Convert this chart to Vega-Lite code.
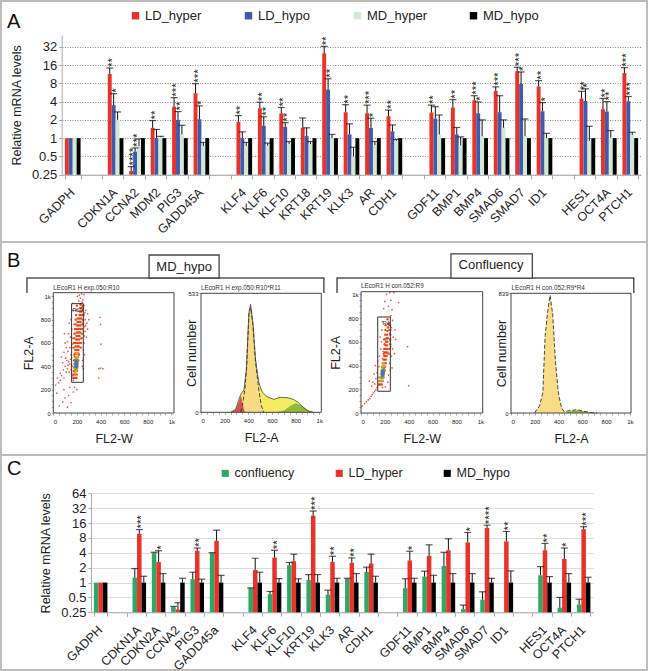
{"$schema":"https://vega.github.io/schema/vega-lite/v6.json","padding":0,"spacing":0,"bounds":"flush","background":"white",
"resolve":{"scale":{"color":"independent","xOffset":"independent","size":"independent"},"legend":{"color":"independent","size":"independent"}},
"config":{"font":"Liberation Sans","view":{"stroke":"#bdbdbd","strokeWidth":2},"axis":{"labelFont":"Liberation Sans","titleFont":"Liberation Sans","titleFontWeight":"normal","labelColor":"#222","titleColor":"#222"},"legend":{"labelFont":"Liberation Sans"},"title":{"font":"Liberation Sans"}},
"datasets":{
"A":[
{"g":"GADPH","s":"LD_hyper","v":1,"hi":1},{"g":"GADPH","s":"LD_hypo","v":1,"hi":1},{"g":"GADPH","s":"MD_hyper","v":1,"hi":1},{"g":"GADPH","s":"MD_hypo","v":1,"hi":1},
{"g":"CDKN1A","s":"LD_hyper","v":11.4,"hi":14.3,"sig":"**"},{"g":"CDKN1A","s":"LD_hypo","v":3.5,"hi":5.4,"sig":"*"},{"g":"CDKN1A","s":"MD_hyper","v":2,"hi":2.7},{"g":"CDKN1A","s":"MD_hypo","v":1,"hi":1},
{"g":"CCNA2","s":"LD_hyper","v":0.287,"hi":0.34,"sig":"****"},{"g":"CCNA2","s":"LD_hypo","v":0.6,"hi":0.69,"sig":"***"},{"g":"CCNA2","s":"MD_hyper","v":0.74,"hi":0.97},{"g":"CCNA2","s":"MD_hypo","v":1,"hi":1},
{"g":"MDM2","s":"LD_hyper","v":1.48,"hi":1.95,"sig":"**"},{"g":"MDM2","s":"LD_hypo","v":1,"hi":1.39},{"g":"MDM2","s":"MD_hyper","v":1.04,"hi":1.07},{"g":"MDM2","s":"MD_hypo","v":1,"hi":1},
{"g":"PIG3","s":"LD_hyper","v":3.3,"hi":4.65,"sig":"***"},{"g":"PIG3","s":"LD_hypo","v":2,"hi":2.74,"sig":"**"},{"g":"PIG3","s":"MD_hyper","v":1.15,"hi":1.63},{"g":"PIG3","s":"MD_hypo","v":1,"hi":1},
{"g":"GADD45A","s":"LD_hyper","v":5.5,"hi":7.9,"sig":"***"},{"g":"GADD45A","s":"LD_hypo","v":2.05,"hi":3.4,"sig":"*"},{"g":"GADD45A","s":"MD_hyper","v":0.74,"hi":0.85},{"g":"GADD45A","s":"MD_hypo","v":1,"hi":1},
{"g":"KLF4","s":"LD_hyper","v":1.85,"hi":2.35,"sig":"**"},{"g":"KLF4","s":"LD_hypo","v":1,"hi":1.27},{"g":"KLF4","s":"MD_hyper","v":0.74,"hi":0.85},{"g":"KLF4","s":"MD_hypo","v":1,"hi":1},
{"g":"KLF6","s":"LD_hyper","v":3.1,"hi":3.9,"sig":"**"},{"g":"KLF6","s":"LD_hypo","v":1.6,"hi":2.25,"sig":"**"},{"g":"KLF6","s":"MD_hyper","v":0.75,"hi":0.83},{"g":"KLF6","s":"MD_hypo","v":1,"hi":1},
{"g":"KLF10","s":"LD_hyper","v":2.57,"hi":3.2,"sig":"**"},{"g":"KLF10","s":"LD_hypo","v":1.53,"hi":1.8,"sig":"**"},{"g":"KLF10","s":"MD_hyper","v":0.8,"hi":0.88},{"g":"KLF10","s":"MD_hypo","v":1,"hi":1},
{"g":"KRT18","s":"LD_hyper","v":1.48,"hi":2.15},{"g":"KRT18","s":"LD_hypo","v":1.08,"hi":1.48},{"g":"KRT18","s":"MD_hyper","v":0.8,"hi":0.88},{"g":"KRT18","s":"MD_hypo","v":1,"hi":1},
{"g":"KRT19","s":"LD_hyper","v":25,"hi":32.5,"sig":"**"},{"g":"KRT19","s":"LD_hypo","v":6.3,"hi":9.5,"sig":"**"},{"g":"KRT19","s":"MD_hyper","v":1,"hi":1.15},{"g":"KRT19","s":"MD_hypo","v":1,"hi":1},
{"g":"KLK3","s":"LD_hyper","v":2.67,"hi":3.56,"sig":"**"},{"g":"KLK3","s":"LD_hypo","v":1.15,"hi":1.72},{"g":"KLK3","s":"MD_hyper","v":0.5,"hi":0.71},{"g":"KLK3","s":"MD_hypo","v":1,"hi":1},
{"g":"AR","s":"LD_hyper","v":2.57,"hi":3.5,"sig":"***"},{"g":"AR","s":"LD_hypo","v":1.47,"hi":2.13,"sig":"*"},{"g":"AR","s":"MD_hyper","v":0.77,"hi":0.88},{"g":"AR","s":"MD_hypo","v":1,"hi":1},
{"g":"CDH1","s":"LD_hyper","v":2.3,"hi":2.9,"sig":"**"},{"g":"CDH1","s":"LD_hypo","v":1.29,"hi":1.65},{"g":"CDH1","s":"MD_hyper","v":0.9,"hi":0.95},{"g":"CDH1","s":"MD_hypo","v":1,"hi":1},
{"g":"GDF11","s":"LD_hyper","v":2.64,"hi":3.5,"sig":"**"},{"g":"GDF11","s":"LD_hypo","v":2.1,"hi":3.3},{"g":"GDF11","s":"MD_hyper","v":1.15,"hi":2.4},{"g":"GDF11","s":"MD_hypo","v":1,"hi":1},
{"g":"BMP1","s":"LD_hyper","v":3.2,"hi":4.3,"sig":"**"},{"g":"BMP1","s":"LD_hypo","v":1.15,"hi":1.5},{"g":"BMP1","s":"MD_hyper","v":0.76,"hi":1.05},{"g":"BMP1","s":"MD_hypo","v":1,"hi":1},
{"g":"BMP4","s":"LD_hyper","v":4.2,"hi":5,"sig":"***"},{"g":"BMP4","s":"LD_hypo","v":2.57,"hi":3.95,"sig":"*"},{"g":"BMP4","s":"MD_hyper","v":1.08,"hi":2},{"g":"BMP4","s":"MD_hypo","v":1,"hi":1},
{"g":"SMAD6","s":"LD_hyper","v":6,"hi":7,"sig":"***"},{"g":"SMAD6","s":"LD_hypo","v":2.67,"hi":5},{"g":"SMAD6","s":"MD_hyper","v":1.48,"hi":2},{"g":"SMAD6","s":"MD_hypo","v":1,"hi":1},
{"g":"SMAD7","s":"LD_hyper","v":12.7,"hi":14.7,"sig":"***"},{"g":"SMAD7","s":"LD_hypo","v":7.8,"hi":12.3,"sig":"*"},{"g":"SMAD7","s":"MD_hyper","v":1.08,"hi":2.07},{"g":"SMAD7","s":"MD_hypo","v":1,"hi":1},
{"g":"ID1","s":"LD_hyper","v":7.1,"hi":8.85,"sig":"**"},{"g":"ID1","s":"LD_hypo","v":2.77,"hi":3.85,"sig":"*"},{"g":"ID1","s":"MD_hyper","v":1,"hi":1.2},{"g":"ID1","s":"MD_hypo","v":1,"hi":1},
{"g":"HES1","s":"LD_hyper","v":4.5,"hi":5.9,"sig":"**"},{"g":"HES1","s":"LD_hypo","v":4.1,"hi":6.5,"sig":"*"},{"g":"HES1","s":"MD_hyper","v":0.9,"hi":1.57},{"g":"HES1","s":"MD_hypo","v":1,"hi":1},
{"g":"OCT4A","s":"LD_hyper","v":3,"hi":4.5,"sig":"**"},{"g":"OCT4A","s":"LD_hypo","v":2.74,"hi":4,"sig":"**"},{"g":"OCT4A","s":"MD_hyper","v":1.02,"hi":1.33},{"g":"OCT4A","s":"MD_hypo","v":1,"hi":1},
{"g":"PTCH1","s":"LD_hyper","v":11.8,"hi":14.5,"sig":"***"},{"g":"PTCH1","s":"LD_hypo","v":4.05,"hi":4.85,"sig":"***"},{"g":"PTCH1","s":"MD_hyper","v":1.13,"hi":1.25},{"g":"PTCH1","s":"MD_hypo","v":1,"hi":1}
],
"C":[
{"g":"GADPH","s":"confluency","v":1,"hi":1},{"g":"GADPH","s":"LD_hyper","v":1,"hi":1},{"g":"GADPH","s":"MD_hypo","v":1,"hi":1},
{"g":"CDKN1A","s":"confluency","v":1.26,"hi":1.92},{"g":"CDKN1A","s":"LD_hyper","v":9.7,"hi":11.8,"sig":"***"},{"g":"CDKN1A","s":"MD_hypo","v":1,"hi":1.34},
{"g":"CDKN2A","s":"confluency","v":4,"hi":4.1},{"g":"CDKN2A","s":"LD_hyper","v":2.6,"hi":4.4,"sig":"*"},{"g":"CDKN2A","s":"MD_hypo","v":1,"hi":1.52},
{"g":"CCNA2","s":"confluency","v":0.32,"hi":0.33},{"g":"CCNA2","s":"LD_hyper","v":0.285,"hi":0.39},{"g":"CCNA2","s":"MD_hypo","v":1,"hi":1.22},
{"g":"PIG3","s":"confluency","v":1.17,"hi":1.62},{"g":"PIG3","s":"LD_hyper","v":4.4,"hi":5,"sig":"**"},{"g":"PIG3","s":"MD_hypo","v":1,"hi":1.17},
{"g":"GADD45a","s":"confluency","v":4,"hi":4.02},{"g":"GADD45a","s":"LD_hyper","v":7,"hi":11.5},{"g":"GADD45a","s":"MD_hypo","v":1,"hi":1.4},
{"g":"KLF4","s":"confluency","v":0.77,"hi":0.78},{"g":"KLF4","s":"LD_hyper","v":1.8,"hi":3.1},{"g":"KLF4","s":"MD_hypo","v":1,"hi":1.62},
{"g":"KLF6","s":"confluency","v":0.58,"hi":0.66},{"g":"KLF6","s":"LD_hyper","v":3.2,"hi":4.5,"sig":"**"},{"g":"KLF6","s":"MD_hypo","v":1,"hi":1.2},
{"g":"KLF10","s":"confluency","v":2.25,"hi":2.55},{"g":"KLF10","s":"LD_hyper","v":2.7,"hi":3.75},{"g":"KLF10","s":"MD_hypo","v":1,"hi":1.19},
{"g":"KRT19","s":"confluency","v":1.13,"hi":1.45},{"g":"KRT19","s":"LD_hyper","v":22.7,"hi":28,"sig":"***"},{"g":"KRT19","s":"MD_hypo","v":1,"hi":1.45},
{"g":"KLK3","s":"confluency","v":0.57,"hi":0.7},{"g":"KLK3","s":"LD_hyper","v":2.6,"hi":3.4,"sig":"**"},{"g":"KLK3","s":"MD_hypo","v":1,"hi":1.22},
{"g":"AR","s":"confluency","v":1.19,"hi":1.22},{"g":"AR","s":"LD_hyper","v":2.5,"hi":3.15,"sig":"**"},{"g":"AR","s":"MD_hypo","v":1,"hi":1.52},
{"g":"CDH1","s":"confluency","v":1.64,"hi":2.05},{"g":"CDH1","s":"LD_hyper","v":2.43,"hi":3.75},{"g":"CDH1","s":"MD_hypo","v":1,"hi":1.34},
{"g":"GDF11","s":"confluency","v":0.77,"hi":1.19},{"g":"GDF11","s":"LD_hyper","v":2.8,"hi":4.3,"sig":"*"},{"g":"GDF11","s":"MD_hypo","v":1,"hi":1.22},
{"g":"BMP1","s":"confluency","v":1.32,"hi":1.7},{"g":"BMP1","s":"LD_hyper","v":3.47,"hi":5.8},{"g":"BMP1","s":"MD_hypo","v":1,"hi":1.4},
{"g":"BMP4","s":"confluency","v":2.17,"hi":4.1},{"g":"BMP4","s":"LD_hyper","v":4.5,"hi":7.7},{"g":"BMP4","s":"MD_hypo","v":1,"hi":1.52},
{"g":"SMAD6","s":"confluency","v":0.29,"hi":0.35},{"g":"SMAD6","s":"LD_hyper","v":6.5,"hi":10.3,"sig":"*"},{"g":"SMAD6","s":"MD_hypo","v":1,"hi":1.52},
{"g":"SMAD7","s":"confluency","v":0.45,"hi":0.65},{"g":"SMAD7","s":"LD_hyper","v":12.8,"hi":14.5,"sig":"****"},{"g":"SMAD7","s":"MD_hypo","v":1,"hi":1.22},
{"g":"ID1","s":"LD_hyper","v":6.8,"hi":10.8,"sig":"**"},{"g":"ID1","s":"MD_hypo","v":1,"hi":1.72},
{"g":"HES1","s":"confluency","v":1.4,"hi":2.1},{"g":"HES1","s":"LD_hyper","v":4.5,"hi":6.2,"sig":"**"},{"g":"HES1","s":"MD_hypo","v":1,"hi":1.32},
{"g":"OCT4A","s":"confluency","v":0.31,"hi":0.5},{"g":"OCT4A","s":"LD_hyper","v":3,"hi":5,"sig":"*"},{"g":"OCT4A","s":"MD_hypo","v":1,"hi":1.52},
{"g":"PTCH1","s":"confluency","v":0.36,"hi":0.46},{"g":"PTCH1","s":"LD_hyper","v":12,"hi":13.5,"sig":"***"},{"g":"PTCH1","s":"MD_hypo","v":1,"hi":1.28}
],
"s1":[
{"x":30,"y":170,"d":"l"},{"x":20,"y":240,"d":"l"},{"x":45,"y":260,"d":"l"},{"x":60,"y":280,"d":"l"},{"x":35,"y":300,"d":"l"},{"x":70,"y":320,"d":"l"},{"x":90,"y":300,"d":"l"},{"x":60,"y":340,"d":"l"},{"x":85,"y":370,"d":"l"},{"x":110,"y":350,"d":"l"},{"x":100,"y":400,"d":"l"},{"x":120,"y":380,"d":"l"},{"x":135,"y":350,"d":"l"},{"x":80,"y":430,"d":"l"},{"x":105,"y":470,"d":"l"},{"x":130,"y":440,"d":"l"},{"x":90,"y":520,"d":"l"},{"x":70,"y":480,"d":"l"},{"x":125,"y":530,"d":"l"},{"x":150,"y":500,"d":"l"},{"x":140,"y":420,"d":"l"},{"x":150,"y":370,"d":"l"},{"x":165,"y":320,"d":"l"},{"x":170,"y":280,"d":"l"},{"x":120,"y":610,"d":"l"},{"x":100,"y":600,"d":"l"},{"x":95,"y":680,"d":"l"},{"x":130,"y":680,"d":"l"},{"x":145,"y":650,"d":"l"},{"x":140,"y":560,"d":"l"},{"x":155,"y":720,"d":"l"},{"x":135,"y":770,"d":"l"},{"x":150,"y":800,"d":"l"},{"x":165,"y":880,"d":"l"},{"x":165,"y":940,"d":"l"},{"x":175,"y":760,"d":"l"},{"x":180,"y":680,"d":"l"},{"x":115,"y":450,"d":"l"},{"x":125,"y":410,"d":"l"},{"x":145,"y":460,"d":"l"},{"x":160,"y":400,"d":"l"},{"x":155,"y":340,"d":"l"},{"x":110,"y":560,"d":"l"},{"x":160,"y":590,"d":"l"},{"x":165,"y":640,"d":"l"},
{"x":260,"y":920,"d":"l"},{"x":275,"y":880,"d":"l"},{"x":250,"y":970,"d":"l"},{"x":220,"y":1010,"d":"l"},{"x":240,"y":1020,"d":"l"},{"x":260,"y":1015,"d":"l"},{"x":270,"y":800,"d":"l"},{"x":285,"y":770,"d":"l"},{"x":290,"y":720,"d":"l"},{"x":280,"y":650,"d":"l"},{"x":270,"y":700,"d":"l"},{"x":260,"y":600,"d":"l"},{"x":255,"y":540,"d":"l"},{"x":260,"y":840,"d":"l"},{"x":275,"y":750,"d":"l"},{"x":290,"y":850,"d":"l"},{"x":300,"y":800,"d":"l"},{"x":265,"y":500,"d":"l"},{"x":250,"y":450,"d":"l"},{"x":245,"y":400,"d":"l"},{"x":255,"y":380,"d":"l"},{"x":405,"y":590,"d":"l"},{"x":385,"y":300,"d":"l"},{"x":400,"y":385,"d":"l"},{"x":385,"y":380,"d":"l"},{"x":420,"y":380,"d":"l"},{"x":395,"y":820,"d":"l"},{"x":400,"y":760,"d":"l"},{"x":255,"y":780,"d":"l"},{"x":265,"y":740,"d":"l"},{"x":262,"y":660,"d":"l"},{"x":258,"y":700,"d":"l"},{"x":268,"y":860,"d":"l"},{"x":255,"y":900,"d":"l"},{"x":245,"y":950,"d":"l"},{"x":230,"y":985,"d":"l"},{"x":215,"y":960,"d":"l"},{"x":205,"y":1000,"d":"l"},
{"x":50,"y":60,"d":"l"},{"x":100,"y":130,"d":"l"},{"x":130,"y":150,"d":"l"},{"x":150,"y":90,"d":"l"},{"x":120,"y":50,"d":"l"},{"x":80,"y":95,"d":"l"},{"x":180,"y":220,"d":"l"},{"x":200,"y":200,"d":"l"},{"x":140,"y":220,"d":"l"},{"x":170,"y":180,"d":"l"},{"x":90,"y":200,"d":"l"},
{"x":176,"y":450,"d":"m"},{"x":212,"y":450,"d":"m"},{"x":178,"y":500,"d":"m"},{"x":218,"y":500,"d":"m"},{"x":172,"y":560,"d":"m"},{"x":232,"y":560,"d":"m"},{"x":175,"y":600,"d":"m"},{"x":235,"y":600,"d":"m"},{"x":178,"y":640,"d":"m"},{"x":238,"y":640,"d":"m"},{"x":181,"y":680,"d":"m"},{"x":241,"y":680,"d":"m"},{"x":184,"y":720,"d":"m"},{"x":244,"y":720,"d":"m"},{"x":187,"y":760,"d":"m"},{"x":247,"y":760,"d":"m"},{"x":190,"y":800,"d":"m"},{"x":250,"y":800,"d":"m"},{"x":193,"y":840,"d":"m"},{"x":253,"y":840,"d":"m"},{"x":196,"y":880,"d":"m"},{"x":250,"y":880,"d":"m"},{"x":200,"y":920,"d":"m"},{"x":248,"y":920,"d":"m"},
{"x":170,"y":300,"d":"m"},{"x":183,"y":300,"d":"m"},{"x":196,"y":300,"d":"m"},{"x":172,"y":330,"d":"m"},{"x":185,"y":330,"d":"m"},{"x":198,"y":330,"d":"m"},{"x":174,"y":360,"d":"m"},{"x":187,"y":360,"d":"m"},{"x":200,"y":360,"d":"m"},{"x":177,"y":390,"d":"m"},{"x":190,"y":390,"d":"m"},{"x":203,"y":390,"d":"m"},{"x":179,"y":420,"d":"m"},{"x":192,"y":420,"d":"m"},{"x":205,"y":420,"d":"m"},{"x":181,"y":450,"d":"m"},{"x":194,"y":450,"d":"m"},{"x":207,"y":450,"d":"m"},{"x":183,"y":480,"d":"m"},{"x":196,"y":480,"d":"m"},{"x":209,"y":480,"d":"m"},{"x":185,"y":510,"d":"m"},{"x":198,"y":510,"d":"m"},{"x":211,"y":510,"d":"m"},{"x":187,"y":540,"d":"m"},{"x":200,"y":540,"d":"m"},{"x":213,"y":540,"d":"m"},{"x":190,"y":570,"d":"m"},{"x":203,"y":570,"d":"m"},{"x":216,"y":570,"d":"m"},{"x":192,"y":600,"d":"m"},{"x":205,"y":600,"d":"m"},{"x":218,"y":600,"d":"m"},{"x":194,"y":630,"d":"m"},{"x":207,"y":630,"d":"m"},{"x":220,"y":630,"d":"m"},{"x":196,"y":660,"d":"m"},{"x":209,"y":660,"d":"m"},{"x":222,"y":660,"d":"m"},{"x":199,"y":690,"d":"m"},{"x":212,"y":690,"d":"m"},{"x":225,"y":690,"d":"m"},{"x":201,"y":720,"d":"m"},{"x":214,"y":720,"d":"m"},{"x":227,"y":720,"d":"m"},{"x":203,"y":750,"d":"m"},{"x":216,"y":750,"d":"m"},{"x":229,"y":750,"d":"m"},{"x":205,"y":780,"d":"m"},{"x":218,"y":780,"d":"m"},{"x":231,"y":780,"d":"m"},{"x":208,"y":810,"d":"m"},{"x":221,"y":810,"d":"m"},{"x":234,"y":810,"d":"m"},{"x":223,"y":840,"d":"m"},{"x":236,"y":840,"d":"m"},{"x":225,"y":870,"d":"m"},{"x":238,"y":870,"d":"m"},{"x":228,"y":900,"d":"m"},{"x":240,"y":900,"d":"m"},{"x":230,"y":930,"d":"m"},
{"x":185,"y":340,"d":"h"},{"x":192,"y":360,"d":"h"},{"x":182,"y":380,"d":"h"},{"x":200,"y":385,"d":"h"},{"x":185,"y":410,"d":"h"},{"x":203,"y":415,"d":"h"},{"x":188,"y":440,"d":"h"},{"x":205,"y":445,"d":"h"},{"x":192,"y":475,"d":"h"},{"x":205,"y":480,"d":"h"},{"x":200,"y":510,"d":"h"},{"x":188,"y":400,"d":"c"},{"x":200,"y":400,"d":"c"},{"x":192,"y":430,"d":"c"},{"x":201,"y":435,"d":"c"},{"x":198,"y":460,"d":"c"},{"x":195,"y":380,"d":"c"},{"x":195,"y":415,"d":"b"},{"x":196,"y":440,"d":"b"},{"x":194,"y":400,"d":"b"}
],
"s2":[
{"x":10,"y":60,"d":"l"},{"x":30,"y":80,"d":"l"},{"x":45,"y":95,"d":"l"},{"x":60,"y":110,"d":"l"},{"x":75,"y":120,"d":"l"},{"x":85,"y":140,"d":"l"},{"x":95,"y":155,"d":"l"},{"x":105,"y":170,"d":"l"},{"x":115,"y":185,"d":"l"},{"x":125,"y":195,"d":"l"},{"x":135,"y":215,"d":"l"},{"x":90,"y":225,"d":"l"},{"x":70,"y":270,"d":"l"},{"x":100,"y":260,"d":"l"},{"x":115,"y":245,"d":"l"},{"x":125,"y":290,"d":"l"},{"x":110,"y":330,"d":"l"},{"x":135,"y":340,"d":"l"},{"x":145,"y":300,"d":"l"},{"x":120,"y":400,"d":"l"},{"x":140,"y":440,"d":"l"},{"x":150,"y":390,"d":"l"},{"x":155,"y":480,"d":"l"},{"x":165,"y":540,"d":"l"},{"x":170,"y":600,"d":"l"},{"x":160,"y":640,"d":"l"},{"x":175,"y":700,"d":"l"},{"x":180,"y":770,"d":"l"},{"x":190,"y":880,"d":"l"},{"x":200,"y":940,"d":"l"},{"x":215,"y":1000,"d":"l"},{"x":240,"y":1015,"d":"l"},{"x":275,"y":1015,"d":"l"},{"x":250,"y":950,"d":"l"},{"x":230,"y":900,"d":"l"},{"x":260,"y":870,"d":"l"},{"x":250,"y":820,"d":"l"},{"x":265,"y":780,"d":"l"},{"x":285,"y":700,"d":"l"},{"x":270,"y":640,"d":"l"},{"x":255,"y":720,"d":"l"},{"x":290,"y":620,"d":"l"},{"x":250,"y":560,"d":"l"},{"x":265,"y":540,"d":"l"},{"x":255,"y":480,"d":"l"},{"x":280,"y":500,"d":"l"},{"x":240,"y":420,"d":"l"},{"x":245,"y":360,"d":"l"},{"x":260,"y":380,"d":"l"},{"x":230,"y":320,"d":"l"},{"x":225,"y":260,"d":"l"},{"x":390,"y":560,"d":"l"},{"x":400,"y":230,"d":"l"},{"x":315,"y":930,"d":"l"},{"x":205,"y":220,"d":"l"},{"x":180,"y":215,"d":"l"},{"x":240,"y":670,"d":"l"},{"x":190,"y":620,"d":"l"},{"x":185,"y":520,"d":"l"},{"x":180,"y":460,"d":"l"},{"x":245,"y":610,"d":"l"},{"x":240,"y":760,"d":"l"},{"x":235,"y":700,"d":"l"},
{"x":190,"y":500,"d":"m"},{"x":232,"y":500,"d":"m"},{"x":195,"y":540,"d":"m"},{"x":240,"y":540,"d":"m"},{"x":198,"y":580,"d":"m"},{"x":245,"y":580,"d":"m"},{"x":200,"y":620,"d":"m"},{"x":245,"y":620,"d":"m"},{"x":203,"y":660,"d":"m"},{"x":246,"y":660,"d":"m"},{"x":205,"y":700,"d":"m"},{"x":246,"y":700,"d":"m"},{"x":207,"y":740,"d":"m"},{"x":240,"y":740,"d":"m"},
{"x":150,"y":240,"d":"m"},{"x":162,"y":240,"d":"m"},{"x":174,"y":240,"d":"m"},{"x":155,"y":270,"d":"m"},{"x":168,"y":270,"d":"m"},{"x":181,"y":270,"d":"m"},{"x":162,"y":300,"d":"m"},{"x":175,"y":300,"d":"m"},{"x":188,"y":300,"d":"m"},{"x":167,"y":330,"d":"m"},{"x":180,"y":330,"d":"m"},{"x":193,"y":330,"d":"m"},{"x":173,"y":360,"d":"m"},{"x":186,"y":360,"d":"m"},{"x":199,"y":360,"d":"m"},{"x":177,"y":390,"d":"m"},{"x":190,"y":390,"d":"m"},{"x":203,"y":390,"d":"m"},{"x":183,"y":420,"d":"m"},{"x":195,"y":420,"d":"m"},{"x":207,"y":420,"d":"m"},{"x":190,"y":450,"d":"m"},{"x":200,"y":450,"d":"m"},{"x":210,"y":450,"d":"m"},{"x":195,"y":480,"d":"m"},{"x":205,"y":480,"d":"m"},{"x":215,"y":480,"d":"m"},{"x":200,"y":510,"d":"m"},{"x":210,"y":510,"d":"m"},{"x":220,"y":510,"d":"m"},{"x":205,"y":540,"d":"m"},{"x":215,"y":540,"d":"m"},{"x":222,"y":540,"d":"m"},{"x":208,"y":570,"d":"m"},{"x":218,"y":570,"d":"m"},{"x":210,"y":600,"d":"m"},{"x":222,"y":600,"d":"m"},{"x":215,"y":630,"d":"m"},{"x":225,"y":630,"d":"m"},{"x":218,"y":660,"d":"m"},{"x":222,"y":690,"d":"m"},{"x":226,"y":720,"d":"m"},{"x":228,"y":750,"d":"m"},{"x":222,"y":790,"d":"m"},
{"x":165,"y":270,"d":"h"},{"x":175,"y":275,"d":"h"},{"x":168,"y":300,"d":"h"},{"x":185,"y":305,"d":"h"},{"x":170,"y":330,"d":"h"},{"x":190,"y":335,"d":"h"},{"x":176,"y":360,"d":"h"},{"x":193,"y":365,"d":"h"},{"x":182,"y":390,"d":"h"},{"x":195,"y":395,"d":"h"},{"x":188,"y":415,"d":"h"},{"x":176,"y":300,"d":"c"},{"x":176,"y":325,"d":"c"},{"x":185,"y":330,"d":"c"},{"x":182,"y":355,"d":"c"},{"x":188,"y":375,"d":"c"},{"x":180,"y":345,"d":"b"},{"x":182,"y":320,"d":"b"},{"x":185,"y":350,"d":"b"}
],
"h1":[
{"x":251,"n":0,"p":"env"},{"x":293,"n":13,"p":"env"},{"x":335,"n":80,"p":"env"},{"x":363,"n":100,"p":"env"},{"x":383,"n":193,"p":"env"},{"x":405,"n":446,"p":"env"},{"x":419,"n":484,"p":"env"},{"x":439,"n":402,"p":"env"},{"x":461,"n":237,"p":"env"},{"x":489,"n":133,"p":"env"},{"x":517,"n":91,"p":"env"},{"x":559,"n":70,"p":"env"},{"x":615,"n":58,"p":"env"},{"x":670,"n":67,"p":"env"},{"x":726,"n":66,"p":"env"},{"x":782,"n":58,"p":"env"},{"x":824,"n":43,"p":"env"},{"x":866,"n":21,"p":"env"},{"x":908,"n":6,"p":"env"},{"x":950,"n":0,"p":"env"},
{"x":335,"n":0,"p":"G1"},{"x":350,"n":30,"p":"G1"},{"x":370,"n":100,"p":"G1"},{"x":385,"n":190,"p":"G1"},{"x":405,"n":440,"p":"G1"},{"x":419,"n":470,"p":"G1"},{"x":439,"n":390,"p":"G1"},{"x":461,"n":225,"p":"G1"},{"x":489,"n":100,"p":"G1"},{"x":510,"n":30,"p":"G1"},{"x":530,"n":0,"p":"G1"},
{"x":251,"n":0,"p":"sub"},{"x":293,"n":12,"p":"sub"},{"x":320,"n":45,"p":"sub"},{"x":338,"n":78,"p":"sub"},{"x":350,"n":40,"p":"sub"},{"x":370,"n":0,"p":"sub"},
{"x":640,"n":0,"p":"G2"},{"x":700,"n":8,"p":"G2"},{"x":760,"n":30,"p":"G2"},{"x":800,"n":40,"p":"G2"},{"x":850,"n":32,"p":"G2"},{"x":900,"n":10,"p":"G2"},{"x":950,"n":0,"p":"G2"}
],
"h2":[
{"x":199,"n":2,"p":"env"},{"x":240,"n":49,"p":"env"},{"x":268,"n":143,"p":"env"},{"x":287,"n":540,"p":"env"},{"x":309,"n":715,"p":"env"},{"x":329,"n":825,"p":"env"},{"x":351,"n":692,"p":"env"},{"x":373,"n":376,"p":"env"},{"x":398,"n":143,"p":"env"},{"x":425,"n":37,"p":"env"},{"x":448,"n":9,"p":"env"},{"x":489,"n":16,"p":"env"},{"x":558,"n":23,"p":"env"},{"x":613,"n":12,"p":"env"},{"x":682,"n":2,"p":"env"},{"x":724,"n":0,"p":"env"},
{"x":460,"n":0,"p":"G2"},{"x":500,"n":12,"p":"G2"},{"x":560,"n":20,"p":"G2"},{"x":600,"n":14,"p":"G2"},{"x":680,"n":2,"p":"G2"},{"x":720,"n":0,"p":"G2"}
]
},
"vconcat":[
{"width":646,"height":241,"data":{"name":"A"},
"title":{"text":"A","anchor":"start","frame":"group","offset":-31,"dx":6,"fontSize":20,"fontWeight":"normal","color":"#111"},
"encoding":{
"x":{"field":"g","type":"nominal","title":null,"sort":null,"scale":{"domain":["GADPH","_1","CDKN1A","CCNA2","MDM2","PIG3","GADD45A","_2","KLF4","KLF6","KLF10","KRT18","KRT19","KLK3","AR","CDH1","_3","GDF11","BMP1","BMP4","SMAD6","SMAD7","ID1","_4","HES1","OCT4A","PTCH1"],"range":[61,640],"paddingInner":0.27,"paddingOuter":0.135},
"axis":{"orient":"bottom","offset":-67.3,"labelAngle":-45,"labelOffset":-5,"labelFontSize":12.5,"labelPadding":7,"tickBand":"extent","tickSize":4,"tickColor":"#aaa","domainColor":"#aaa","labelExpr":"indexof(datum.label,'_')===0?'':datum.label","labelOverlap":false,"grid":false}},
"xOffset":{"field":"s","type":"nominal","scale":{"domain":["LD_hyper","LD_hypo","MD_hyper","MD_hypo"],"paddingInner":0,"paddingOuter":0}},
"y":{"field":"v","type":"quantitative","title":"Relative mRNA levels","scale":{"type":"log","base":2,"domain":[0.25,50],"range":[173.7,34],"nice":false},
"axis":{"orient":"left","offset":-60.7,"values":[0.25,0.5,1,2,4,8,16,32],"format":"~g","labelFontSize":13,"titleFontSize":12.5,"titlePadding":8,"tickSize":3,"tickColor":"#aaa","domainColor":"#aaa","grid":true,"gridColor":"#8a8a8a","gridDash":[1,1.5],"gridWidth":1}}},
"layer":[
{"mark":{"type":"bar","width":{"band":1}},"encoding":{"y2":{"datum":0.25},"color":{"field":"s","type":"nominal","scale":{"domain":["LD_hyper","LD_hypo","MD_hyper","MD_hypo"],"range":["#e8322a","#3f5bab","#d3e8d3","#000000"]},"legend":{"orient":"none","legendX":128,"legendY":8,"direction":"horizontal","columns":4,"title":null,"symbolType":"square","symbolSize":55,"labelFontSize":13,"labelColor":"#222","labelOffset":3,"columnPadding":40,"symbolOpacity":1}}}},
{"transform":[{"filter":"datum.hi>datum.v"}],"mark":{"type":"rule","color":"#111","strokeWidth":1},"encoding":{"y2":{"field":"hi"}}},
{"transform":[{"filter":"datum.hi>datum.v"}],"mark":{"type":"tick","orient":"horizontal","color":"#111","size":7,"thickness":1.2},"encoding":{"y":{"field":"hi","type":"quantitative"}}},
{"transform":[{"filter":"datum.sig"}],"mark":{"type":"text","angle":-90,"align":"left","baseline":"middle","dx":1,"dy":3,"fontSize":11.5,"color":"#222"},"encoding":{"y":{"field":"hi","type":"quantitative"},"text":{"field":"sig"}}}
]},
{"width":646,"height":213,
"title":{"text":"B","anchor":"start","frame":"group","offset":-29,"dx":6,"fontSize":20,"fontWeight":"normal","color":"#111"},
"resolve":{"scale":{"x":"independent","y":"independent"},"axis":{"x":"independent","y":"independent"}},
"layer":[
{"data":{"name":"s1"},
"encoding":{"x":{"field":"x","type":"quantitative","title":"FL2-W","scale":{"domain":[0,1022],"range":[52.3,173],"nice":false},"axis":{"orient":"bottom","offset":-42,"values":[0,50,100,150,200,250,300,350,400,450,500,550,600,650,700,750,800,850,900,950,1000],"labelExpr":"datum.value%200==0?(datum.value==1000?'1k':datum.label):''","labelOverlap":false,"labelFontSize":6,"tickSize":2,"tickWidth":0.7,"domain":false,"grid":false,"labelPadding":3,"titleFontSize":12.5,"titlePadding":8}},
"y":{"field":"y","type":"quantitative","title":"FL2-A","scale":{"domain":[0,1031],"range":[171,50.7],"nice":false},"axis":{"orient":"left","offset":-52.3,"values":[0,50,100,150,200,250,300,350,400,450,500,550,600,650,700,750,800,850,900,950,1000],"labelExpr":"datum.value%200==0?(datum.value==1000?'1k':datum.label):''","labelOverlap":false,"labelFontSize":6,"tickSize":2,"tickWidth":0.7,"domain":false,"grid":false,"labelPadding":1,"titleFontSize":12.5,"titlePadding":5}}},
"layer":[
{"mark":{"type":"point","filled":true,"opacity":1,"clip":true},"encoding":{"color":{"field":"d","type":"nominal","legend":null,"scale":{"domain":["l","m","h","c","b"],"range":["#ee5a50","#e84a1c","#f2a51e","#58b060","#4a70b8"]}},"size":{"field":"d","type":"ordinal","legend":null,"scale":{"domain":["l","m","h","c","b"],"range":[3,14,14,12,12]}}}},
{"data":{"values":[{"x":0,"x2":1022,"y":0,"y2":1031}]},"mark":{"type":"rect","fillOpacity":0,"stroke":"#444","strokeWidth":1},"encoding":{"x2":{"field":"x2"},"y2":{"field":"y2"}}},
{"data":{"values":[{"x":155,"x2":254,"y":263,"y2":937}]},"mark":{"type":"rect","fillOpacity":0,"stroke":"#333","strokeWidth":1},"encoding":{"x2":{"field":"x2"},"y2":{"field":"y2"}}},
{"data":{"values":[{"x":206,"y":883,"t":"R10"}]},"mark":{"type":"text","fontSize":5.5,"color":"#333"},"encoding":{"text":{"field":"t"}}},
{"data":{"values":[{"x":0,"y":1074,"t":"LEcoR1 H exp.050:R10"}]},"mark":{"type":"text","fontSize":6.3,"align":"left","color":"#333"},"encoding":{"text":{"field":"t"}}},
{"data":{"values":[{"x":-223,"y":1028,"o":1},{"x":-223,"y":1157,"o":2},{"x":2291,"y":1157,"o":3},{"x":2291,"y":1028,"o":4}]},"mark":{"type":"line","color":"#555","strokeWidth":1.5},"encoding":{"order":{"field":"o"}}},
{"data":{"values":[{"x":811,"x2":1404,"y":1157,"y2":1354}]},"mark":{"type":"rect","fill":"white","stroke":"#444","strokeWidth":1.3},"encoding":{"x2":{"field":"x2"},"y2":{"field":"y2"}}},
{"data":{"values":[{"x":1108,"y":1250,"t":"MD_hypo"}]},"mark":{"type":"text","fontSize":13,"color":"#222"},"encoding":{"text":{"field":"t"}}}
]},
{"data":{"name":"h1"},
"encoding":{"x":{"field":"x","type":"quantitative","title":"FL2-A","scale":{"domain":[0,1017],"range":[200,320.3],"nice":false},"axis":{"orient":"bottom","offset":-42.7,"values":[0,50,100,150,200,250,300,350,400,450,500,550,600,650,700,750,800,850,900,950,1000],"labelExpr":"datum.value%200==0?(datum.value==1000?'1k':datum.label):''","labelOverlap":false,"labelFontSize":6,"tickSize":2,"tickWidth":0.7,"domain":false,"grid":false,"labelPadding":3,"titleFontSize":12.5,"titlePadding":8}},
"y":{"field":"n","type":"quantitative","title":"Cell number","scale":{"domain":[0,533],"range":[170.3,51.3],"nice":false},"axis":{"orient":"left","offset":-200,"values":[0,533],"labelFontSize":6,"tickSize":2,"domain":false,"grid":false,"labelPadding":1,"titleFontSize":12.5,"titleX":-3,"titleBaseline":"bottom"}}},
"layer":[
{"transform":[{"filter":"datum.p=='env'"}],"mark":{"type":"area","color":"#f4ec62"}},
{"transform":[{"filter":"datum.p=='G2'"}],"mark":{"type":"area","color":"#8fbc3f"}},
{"transform":[{"filter":"datum.p=='G1'"}],"mark":{"type":"area","color":"#f9d983"}},
{"transform":[{"filter":"datum.p=='sub'"}],"mark":{"type":"area","color":"#dd5050"}},
{"transform":[{"filter":"datum.p=='env'"}],"mark":{"type":"line","color":"#444","strokeWidth":0.8}},
{"transform":[{"filter":"datum.p=='G1'"}],"mark":{"type":"line","color":"#333","strokeWidth":0.9,"strokeDash":[4,2]}},
{"data":{"values":[{"x":0,"x2":1017,"n":0,"y2":533}]},"mark":{"type":"rect","fillOpacity":0,"stroke":"#444","strokeWidth":1},"encoding":{"x2":{"field":"x2"},"y2":{"field":"y2"}}},
{"data":{"values":[{"x":0,"n":558,"t":"LEcoR1 H exp.050:R10*R11"}]},"mark":{"type":"text","fontSize":6.3,"align":"left","color":"#333"},"encoding":{"text":{"field":"t"}}}
]},
{"data":{"name":"s2"},
"encoding":{"x":{"field":"x","type":"quantitative","title":"FL2-W","scale":{"domain":[0,1020],"range":[360,481.7],"nice":false},"axis":{"orient":"bottom","offset":-42,"values":[0,50,100,150,200,250,300,350,400,450,500,550,600,650,700,750,800,850,900,950,1000],"labelExpr":"datum.value%200==0?(datum.value==1000?'1k':datum.label):''","labelOverlap":false,"labelFontSize":6,"tickSize":2,"tickWidth":0.7,"domain":false,"grid":false,"labelPadding":3,"titleFontSize":12.5,"titlePadding":8}},
"y":{"field":"y","type":"quantitative","title":"FL2-A","scale":{"domain":[0,1022],"range":[171,49.7],"nice":false},"axis":{"orient":"left","offset":-360,"values":[0,50,100,150,200,250,300,350,400,450,500,550,600,650,700,750,800,850,900,950,1000],"labelExpr":"datum.value%200==0?(datum.value==1000?'1k':datum.label):''","labelOverlap":false,"labelFontSize":6,"tickSize":2,"tickWidth":0.7,"domain":false,"grid":false,"labelPadding":1,"titleFontSize":12.5,"titlePadding":5}}},
"layer":[
{"mark":{"type":"point","filled":true,"opacity":1,"clip":true},"encoding":{"color":{"field":"d","type":"nominal","legend":null,"scale":{"domain":["l","m","h","c","b"],"range":["#ee5a50","#e84a1c","#f2a51e","#58b060","#4a70b8"]}},"size":{"field":"d","type":"ordinal","legend":null,"scale":{"domain":["l","m","h","c","b"],"range":[3,14,14,12,12]}}}},
{"data":{"values":[{"x":0,"x2":1020,"y":0,"y2":1022}]},"mark":{"type":"rect","fillOpacity":0,"stroke":"#444","strokeWidth":1},"encoding":{"x2":{"field":"x2"},"y2":{"field":"y2"}}},
{"data":{"values":[{"x":140,"x2":246,"y":183,"y2":809}]},"mark":{"type":"rect","fillOpacity":0,"stroke":"#333","strokeWidth":1},"encoding":{"x2":{"field":"x2"},"y2":{"field":"y2"}}},
{"data":{"values":[{"x":210,"y":755,"t":"R4"}]},"mark":{"type":"text","fontSize":5.5,"color":"#333"},"encoding":{"text":{"field":"t"}}},
{"data":{"values":[{"x":0,"y":1067,"t":"LEcoR1 H con.052:R9"}]},"mark":{"type":"text","fontSize":6.3,"align":"left","color":"#333"},"encoding":{"text":{"field":"t"}}},
{"data":{"values":[{"x":-201,"y":1011,"o":1},{"x":-201,"y":1137,"o":2},{"x":2286,"y":1137,"o":3},{"x":2286,"y":1011,"o":4}]},"mark":{"type":"line","color":"#555","strokeWidth":1.5},"encoding":{"order":{"field":"o"}}},
{"data":{"values":[{"x":754,"x2":1436,"y":1137,"y2":1340}]},"mark":{"type":"rect","fill":"white","stroke":"#444","strokeWidth":1.3},"encoding":{"x2":{"field":"x2"},"y2":{"field":"y2"}}},
{"data":{"values":[{"x":1090,"y":1245,"t":"Confluency"}]},"mark":{"type":"text","fontSize":13,"color":"#222"},"encoding":{"text":{"field":"t"}}}
]},
{"data":{"name":"h2"},
"encoding":{"x":{"field":"x","type":"quantitative","title":"FL2-A","scale":{"domain":[0,1010],"range":[510,630],"nice":false},"axis":{"orient":"bottom","offset":-42,"values":[0,50,100,150,200,250,300,350,400,450,500,550,600,650,700,750,800,850,900,950,1000],"labelExpr":"datum.value%200==0?(datum.value==1000?'1k':datum.label):''","labelOverlap":false,"labelFontSize":6,"tickSize":2,"tickWidth":0.7,"domain":false,"grid":false,"labelPadding":3,"titleFontSize":12.5,"titlePadding":8}},
"y":{"field":"n","type":"quantitative","title":"Cell number","scale":{"domain":[0,839],"range":[171,51.3],"nice":false},"axis":{"orient":"left","offset":-510,"values":[0,839],"labelFontSize":6,"tickSize":2,"domain":false,"grid":false,"labelPadding":1,"titleFontSize":12.5,"titleX":-3,"titleBaseline":"bottom"}}},
"layer":[
{"transform":[{"filter":"datum.p=='env'"}],"mark":{"type":"area","color":"#f9dc86"}},
{"transform":[{"filter":"datum.p=='G2'"}],"mark":{"type":"area","color":"#8fbc3f"}},
{"transform":[{"filter":"datum.p=='env'"}],"mark":{"type":"line","color":"#333","strokeWidth":0.9,"strokeDash":[4,2]}},
{"data":{"values":[{"x":0,"x2":1010,"n":0,"y2":839}]},"mark":{"type":"rect","fillOpacity":0,"stroke":"#444","strokeWidth":1},"encoding":{"x2":{"field":"x2"},"y2":{"field":"y2"}}},
{"data":{"values":[{"x":5,"n":878,"t":"LEcoR1 H con.052:R9*R4"}]},"mark":{"type":"text","fontSize":6.3,"align":"left","color":"#333"},"encoding":{"text":{"field":"t"}}}
]}
]},
{"width":646,"height":215,"data":{"name":"C"},
"title":{"text":"C","anchor":"start","frame":"group","offset":-24,"dx":6,"fontSize":20,"fontWeight":"normal","color":"#111"},
"encoding":{
"x":{"field":"g","type":"nominal","title":null,"sort":null,"scale":{"domain":["GADPH","_1","CDKN1A","CDKN2A","CCNA2","PIG3","GADD45a","_2","KLF4","KLF6","KLF10","KRT19","KLK3","AR","CDH1","_3","GDF11","BMP1","BMP4","SMAD6","SMAD7","ID1","_4","HES1","OCT4A","PTCH1"],"range":[90,592.3],"paddingInner":0.3,"paddingOuter":0.15},
"axis":{"orient":"bottom","offset":-57.7,"labelAngle":-45,"labelOffset":-5,"labelFontSize":12.5,"labelPadding":7,"tickBand":"extent","tickSize":4,"tickColor":"#aaa","domainColor":"#aaa","labelExpr":"indexof(datum.label,'_')===0?'':datum.label","labelOverlap":false,"grid":false}},
"xOffset":{"field":"s","type":"nominal","scale":{"domain":["confluency","LD_hyper","MD_hypo"],"paddingInner":0,"paddingOuter":0}},
"y":{"field":"v","type":"quantitative","title":"Relative mRNA levels","scale":{"type":"log","base":2,"domain":[0.25,64],"range":[157.3,38.3],"nice":false},
"axis":{"orient":"left","offset":-90,"values":[0.25,0.5,1,2,4,8,16,32,64],"format":"~g","labelFontSize":13,"titleFontSize":12.5,"titlePadding":8,"tickSize":3,"tickColor":"#aaa","domainColor":"#aaa","grid":true,"gridColor":"#dcdcdc","gridWidth":1}}},
"layer":[
{"mark":{"type":"bar","width":{"band":1}},"encoding":{"y2":{"datum":0.25},"color":{"field":"s","type":"nominal","scale":{"domain":["confluency","LD_hyper","MD_hypo"],"range":["#2fa866","#e8322a","#000000"]},"legend":{"orient":"none","legendX":218,"legendY":12,"direction":"horizontal","columns":3,"title":null,"symbolType":"square","symbolSize":50,"labelFontSize":12.5,"labelColor":"#222","labelOffset":3,"columnPadding":38,"symbolOpacity":1}}}},
{"transform":[{"filter":"datum.hi>datum.v"}],"mark":{"type":"rule","color":"#111","strokeWidth":1},"encoding":{"y2":{"field":"hi"}}},
{"transform":[{"filter":"datum.hi>datum.v"}],"mark":{"type":"tick","orient":"horizontal","color":"#111","size":7,"thickness":1.2},"encoding":{"y":{"field":"hi","type":"quantitative"}}},
{"transform":[{"filter":"datum.sig"}],"mark":{"type":"text","angle":-90,"align":"left","baseline":"middle","dx":1,"dy":3,"fontSize":11.5,"color":"#222"},"encoding":{"y":{"field":"hi","type":"quantitative"},"text":{"field":"sig"}}}
]}
]}
